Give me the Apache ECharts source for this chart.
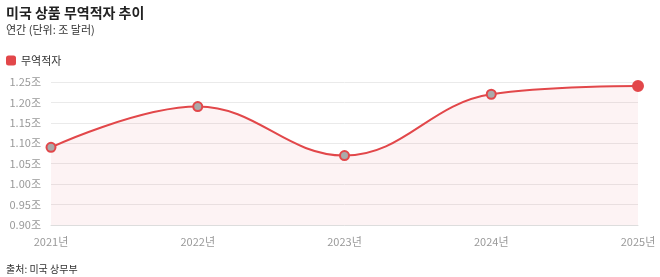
<!DOCTYPE html>
<html><head><meta charset="utf-8">
<script src="https://cdn.jsdelivr.net/npm/echarts@6/dist/echarts.min.js"></script>
<style>html,body{margin:0;padding:0;background:#fff}#c{width:660px;height:277px}</style>
</head><body><div id="c"></div>
<script>
const categories = ['2021년','2022년','2023년','2024년','2025년'];
const deficit = [1.09, 1.19, 1.07, 1.22, 1.24];
const yTicks = [0.90, 0.95, 1.00, 1.05, 1.10, 1.15, 1.20, 1.25];

const RED = '#e2474a';
const FONT = '"Noto Sans CJK KR", "Noto Sans", sans-serif';
const chart = echarts.init(document.getElementById('c'));
const lastIdx = deficit.length - 1;
chart.setOption({
  textStyle: {fontFamily: FONT},
  animation: false,
  title: [
    {text: '미국 상품 무역적자 추이', left: 1, top: 1, textStyle: {fontSize: 14, fontWeight: 'bold', color: '#222', fontFamily: FONT}},
    {text: '연간 (단위: 조 달러)', left: 1, top: 19, textStyle: {fontSize: 11, fontWeight: 'normal', color: '#333', fontFamily: FONT}},
    {text: '출처: 미국 상무부', left: 1, top: 259, textStyle: {fontSize: 10, fontWeight: 'normal', color: '#333', fontFamily: FONT}}
  ],
  legend: {
    left: 1, top: 50, icon: 'roundRect', itemWidth: 10, itemHeight: 10, itemGap: 6,
    textStyle: {fontSize: 11, color: '#333', fontFamily: FONT},
    data: [{name: '무역적자', itemStyle: {color: RED, borderWidth: 0}}]
  },
  grid: {left: 51, right: 22, top: 82, bottom: 52, containLabel: false},
  xAxis: {
    type: 'category', data: categories, boundaryGap: false,
    axisLine: {lineStyle: {color: '#ddd'}}, axisTick: {show: false},
    axisLabel: {color: '#999', fontSize: 11, margin: 11}
  },
  yAxis: {
    type: 'value', min: yTicks[0], max: yTicks[yTicks.length - 1], interval: 0.05,
    axisLabel: {color: '#999', fontSize: 11, margin: 10, formatter: v => v.toFixed(2) + '조'},
    splitLine: {lineStyle: {color: '#eaeaea'}},
    axisLine: {show: false}, axisTick: {show: false}
  },
  series: [{
    name: '무역적자', type: 'line', smooth: 0.4,
    data: deficit.map((v, i) => i === lastIdx ? {value: v, symbolSize: 10, itemStyle: {color: RED, borderColor: RED}} : v),
    symbol: 'circle', symbolSize: 9,
    lineStyle: {color: RED, width: 2},
    itemStyle: {color: '#aaa', borderColor: RED, borderWidth: 2},
    areaStyle: {color: 'rgba(226,71,74,0.09)'}
  }]
});
</script></body></html>
